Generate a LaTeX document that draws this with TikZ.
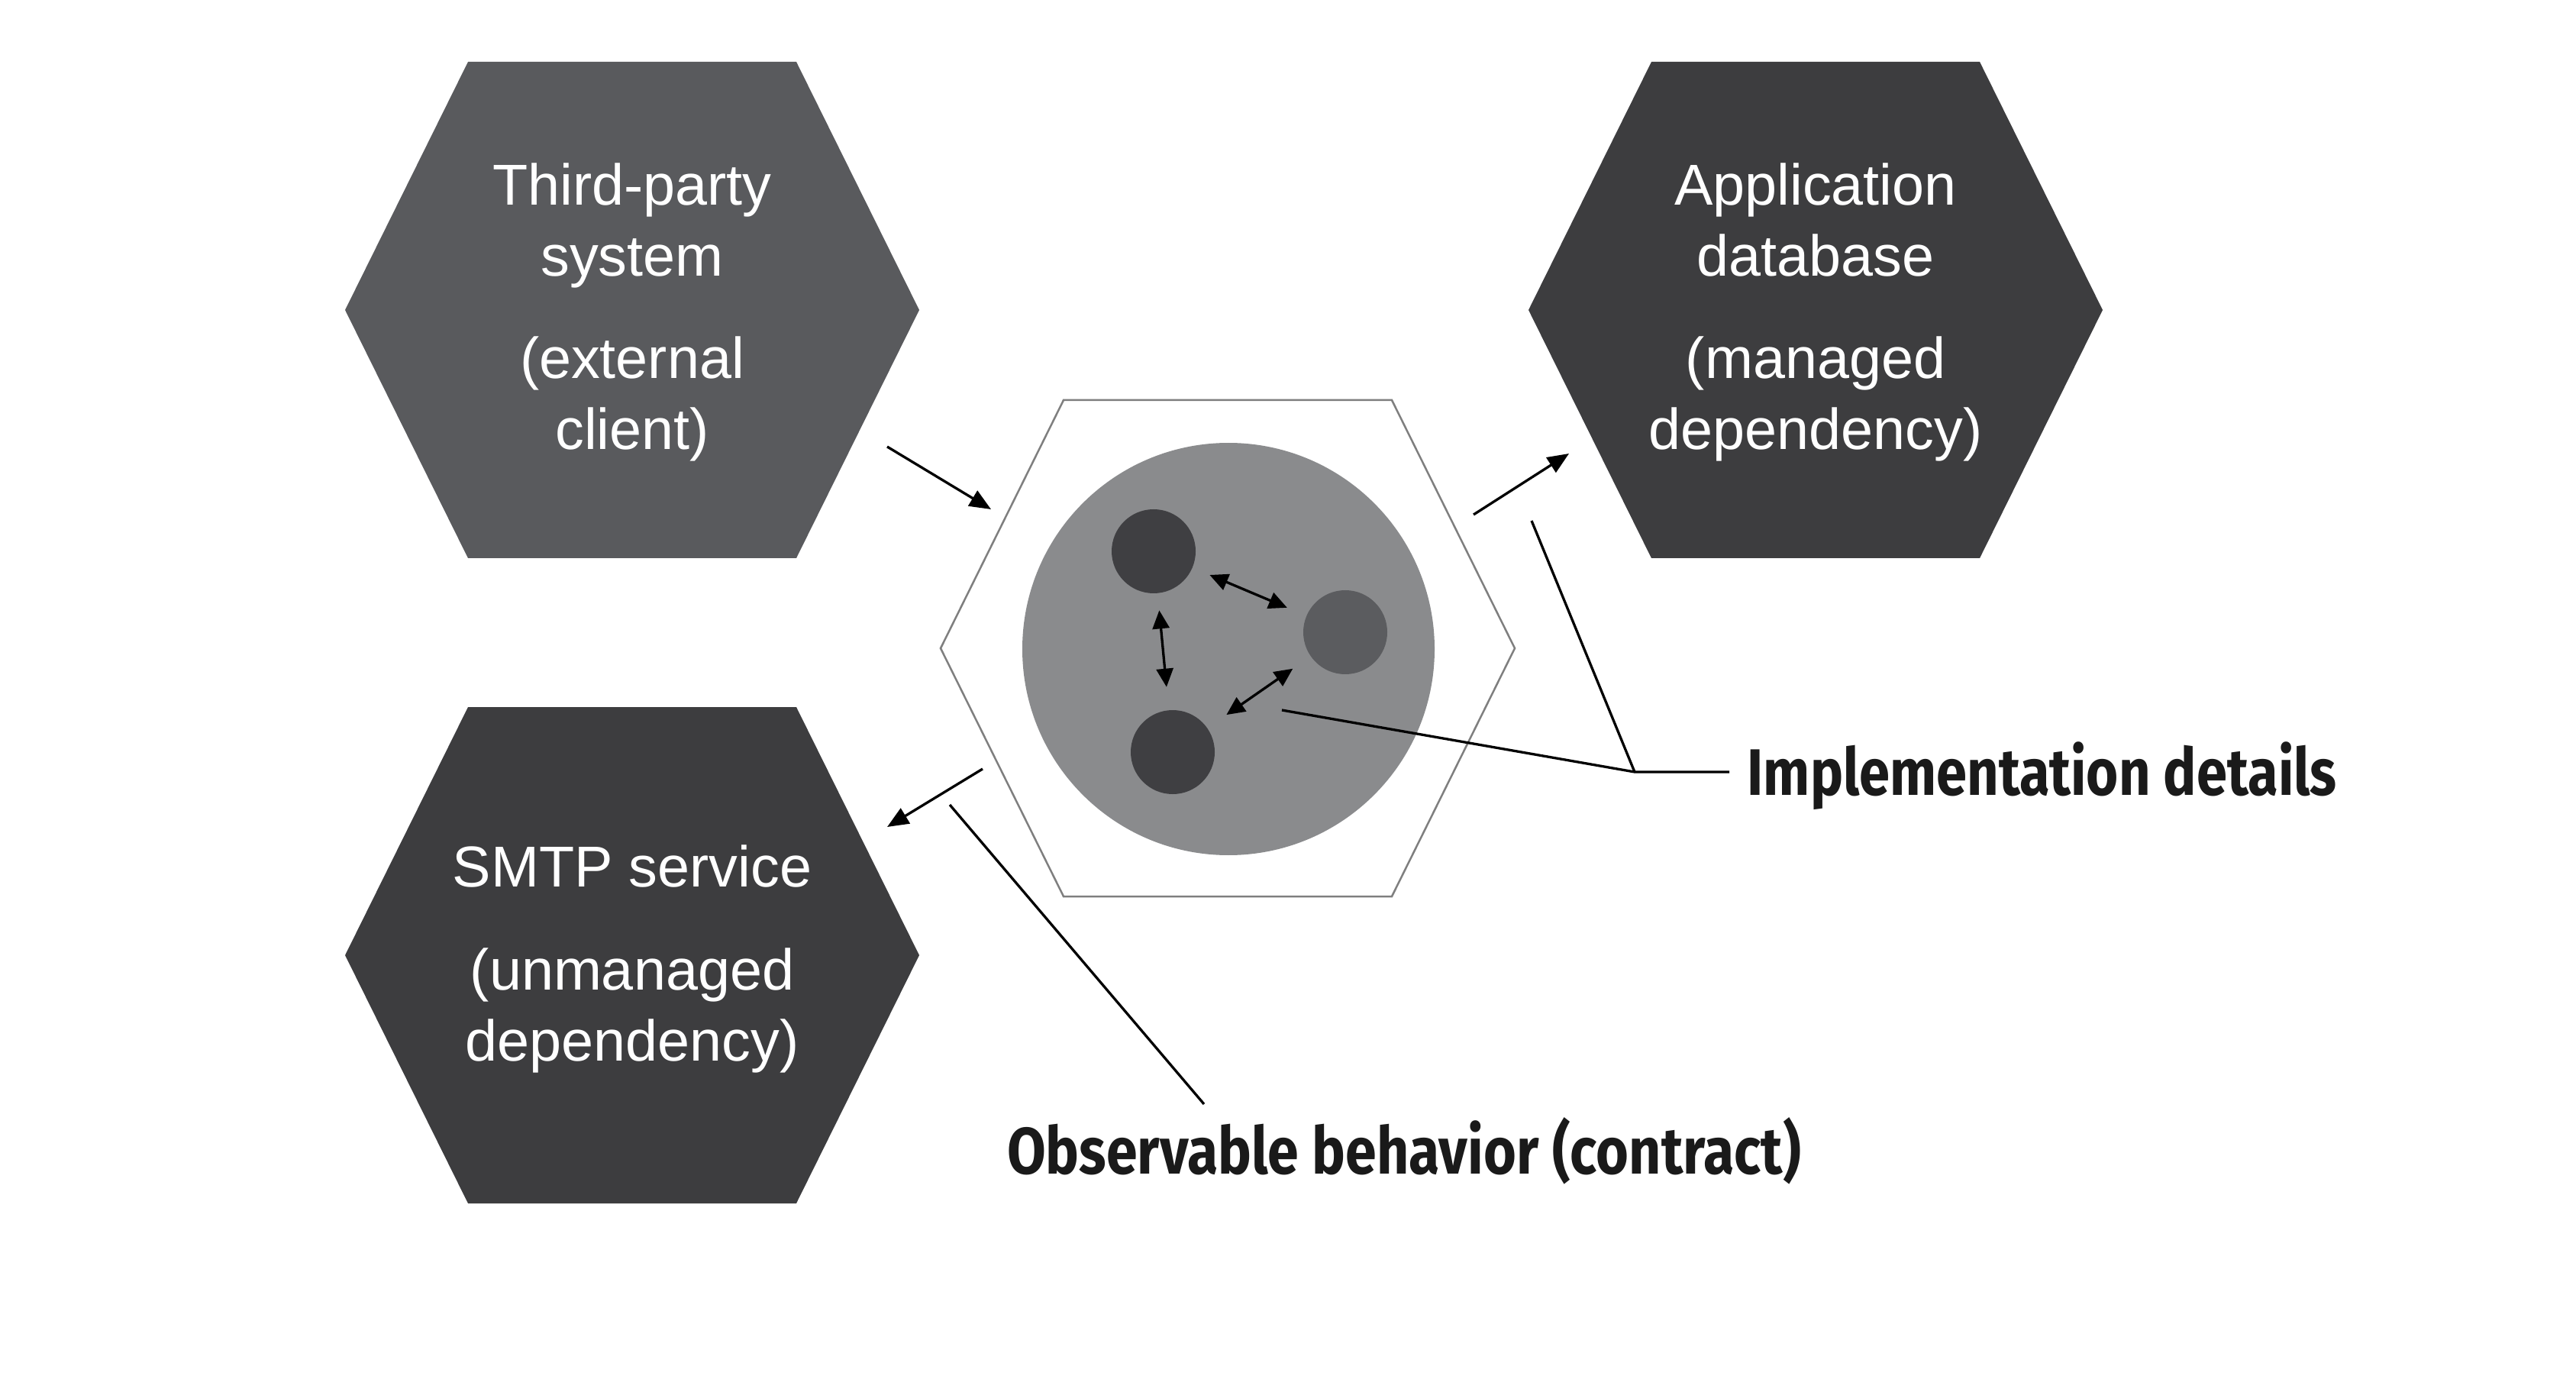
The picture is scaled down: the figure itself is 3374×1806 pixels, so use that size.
\documentclass[tikz,border=0pt]{standalone}
\usepackage{fontspec}
\setmainfont{Liberation Sans}
\newfontfamily\labelfont{Fira Sans}
\usetikzlibrary{arrows.meta}
\definecolor{thirdgray}{HTML}{595A5D}
\definecolor{depgray}{HTML}{3D3D3F}
\definecolor{bigcirc}{HTML}{8A8B8D}
\definecolor{smalldark}{HTML}{3F3F42}
\definecolor{smallmid}{HTML}{5B5C5F}
\definecolor{hexline}{HTML}{7F7F7F}
\definecolor{labeltext}{HTML}{1A1A1A}
\tikzset{
  hexagon/.pic={\path[pic actions] (-376,0) -- (-215,-325) -- (215,-325) -- (376,0) -- (215,325) -- (-215,325) -- cycle;},
  hextext/.style={text=white, align=center, font=\fontsize{21.5pt}{26.5pt}\selectfont, inner sep=0pt},
  arr/.style={line width=0.33mm, -{Triangle[length=2.8mm,width=2.3mm]}},
  darr/.style={line width=0.33mm, {Triangle[length=2.4mm,width=2.2mm]}-{Triangle[length=2.4mm,width=2.2mm]}},
  leader/.style={line width=0.33mm, draw=black},
  lbl/.style={text=labeltext, inner sep=0pt, font=\labelfont\fontsize{24.5pt}{28pt}\selectfont\bfseries},
  dot/.style={circle, minimum size=11mm, inner sep=0pt}
}
\begin{document}
\begin{tikzpicture}[x=0.1mm,y=-0.1mm]
\useasboundingbox[fill=white] (0,0) rectangle (3374,1806);

% outer hexagons
\pic[fill=thirdgray] at (828,406) {hexagon};
\pic[fill=depgray] at (2378,406) {hexagon};
\pic[fill=depgray] at (828,1251) {hexagon};
% centre hexagon outline
\pic[draw=hexline, line width=0.25mm] at (1608,849) {hexagon};

% texts
\node[hextext] (third) at (828,409) {Third-party\\system\\[4mm](external\\client)};
\node[hextext] (appdb) at (2378,409) {Application\\database\\[4mm](managed\\dependency)};
\node[hextext] (smtp) at (828,1256) {SMTP service\\[4.2mm](unmanaged\\dependency)};

% core
\node[circle, fill=bigcirc, minimum size=54mm, inner sep=0pt] (core) at (1609,850) {};
\node[dot, fill=smalldark] (c1) at (1511,722) {};
\node[dot, fill=smallmid] (c2) at (1762,828) {};
\node[dot, fill=smalldark] (c3) at (1536,985) {};
\draw[darr, shorten <=2.4mm, shorten >=2.7mm] (c1) -- (c2);
\draw[darr, shorten <=2.2mm, shorten >=3mm] (c1) -- (c3);
\draw[darr, shorten <=3mm, shorten >=2.8mm] (c3) -- (c2);

% external arrows
\coordinate (a1s) at (1162,585); \coordinate (a1e) at (1298,667);
\coordinate (a2s) at (1930,674); \coordinate (a2e) at (2055,594);
\coordinate (a3s) at (1287,1007); \coordinate (a3e) at (1162,1083);
\draw[arr] (a1s) -- (a1e);
\draw[arr] (a2s) -- (a2e);
\draw[arr] (a3s) -- (a3e);

% labels
\node[lbl, anchor=west] (impl) at (2288,1016) {\resizebox{77.2mm}{\height}{Implementation details}};
\node[lbl] (obs) at (1839,1507) {\resizebox{104mm}{\height}{Observable behavior (contract)}};

% leader lines
\coordinate (j) at (2141,1011);
\coordinate (l1) at (1679,930);
\coordinate (l2) at (2006,682);
\coordinate (l3) at (2265,1011);
\draw[leader] (l1) -- (j) -- (l3);
\draw[leader] (l2) -- (j);
\coordinate (o1) at (1244,1054);
\coordinate (o2) at (1577,1446);
\draw[leader] (o1) -- (o2);
\end{tikzpicture}
\end{document}
